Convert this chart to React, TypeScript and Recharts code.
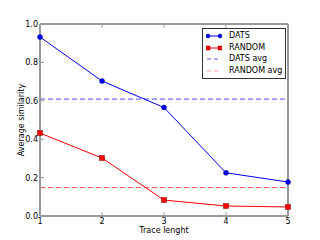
import React from 'react';
import { ComposedChart, Line, XAxis, YAxis, ReferenceLine, Legend } from 'recharts';

const traceLengths = [1, 2, 3, 4, 5];
const datsValues = [0.932, 0.703, 0.565, 0.225, 0.177];
const randomValues = [0.432, 0.302, 0.083, 0.052, 0.047];
const datsAvg = 0.609;
const randomAvg = 0.148;
const yTicks = [0, 0.2, 0.4, 0.6, 0.8, 1.0];

const data = traceLengths.map((x, i) => ({ x, dats: datsValues[i], random: randomValues[i] }));

const FONT = '"DejaVu Sans", sans-serif';
const FRAME = '#999999';

const BottomTick = (p: any) => (
  <g>
    <line x1={p.x} x2={p.x} y1={p.y} y2={p.y - 4} stroke={FRAME} />
    <text x={p.x} y={p.y + 8} textAnchor="middle" fontSize={8} fill="#000" fontFamily={FONT}>{p.payload.value}</text>
  </g>
);
const TopTick = (p: any) => <line x1={p.x} x2={p.x} y1={p.y} y2={p.y + 4} stroke={FRAME} />;
const LeftTick = (p: any) => (
  <g>
    <line x1={p.x} x2={p.x + 4} y1={p.y} y2={p.y} stroke={FRAME} />
    <text x={p.x - 2} y={p.y + 3} textAnchor="end" fontSize={8} fill="#000" fontFamily={FONT}>{Number(p.payload.value).toFixed(1)}</text>
  </g>
);
const RightTick = (p: any) => <line x1={p.x} x2={p.x - 4} y1={p.y} y2={p.y} stroke={FRAME} />;

const SquareDot = (p: any) => (
  <rect key={p.index} x={p.cx - 2.5} y={p.cy - 2.5} width={5} height={5} fill="#ff0000" stroke="#800000" strokeWidth={0.5} />
);

const legendItems = [
  { label: 'DATS', color: '#0000ff', marker: 'circle', dash: '' },
  { label: 'RANDOM', color: '#ff0000', marker: 'square', dash: '' },
  { label: 'DATS avg', color: '#5a5aff', marker: '', dash: '4 3' },
  { label: 'RANDOM avg', color: '#ff9a9a', marker: '', dash: '4 3' },
];

const LegendBox = () => (
  <div style={{ border: '1px solid #333', background: '#fff', padding: '1px 3px', fontFamily: FONT, fontSize: 8, whiteSpace: 'nowrap', lineHeight: '11.7px' }}>
    {legendItems.map((it) => (
      <div key={it.label} style={{ display: 'flex', alignItems: 'center', height: 11.7 }}>
        <svg width={16} height={8} style={{ marginRight: 7, flexShrink: 0 }}>
          <line x1={1} x2={15} y1={4} y2={4} stroke={it.color} strokeDasharray={it.dash} />
          {it.marker === 'circle' && (<><circle cx={2} cy={4} r={2} fill="#0000ff" stroke="#000080" strokeWidth={0.5} /><circle cx={14} cy={4} r={2} fill="#0000ff" stroke="#000080" strokeWidth={0.5} /></>)}
          {it.marker === 'square' && (<><rect x={0} y={2} width={4} height={4} fill="#ff0000" stroke="#800000" strokeWidth={0.5} /><rect x={12} y={2} width={4} height={4} fill="#ff0000" stroke="#800000" strokeWidth={0.5} /></>)}
        </svg>
        <span>{it.label}</span>
      </div>
    ))}
  </div>
);

const XLabel = (p: any) => {
  const vb = p.viewBox;
  return <text x={vb.x + vb.width / 2} y={233} textAnchor="middle" fontSize={8} fontFamily={FONT} fill="#000">Trace lenght</text>;
};
const YLabel = (p: any) => {
  const vb = p.viewBox;
  const cy = vb.y + vb.height / 2;
  return <text x={24} y={cy} transform={`rotate(-90 24 ${cy})`} textAnchor="middle" fontSize={8} fontFamily={FONT} fill="#000">Average similarity</text>;
};

export default function App() {
  return (
    <div style={{ position: 'absolute', left: 0, top: 0, width: 320, height: 240, background: '#fff' }}>
      <ComposedChart width={320} height={240} data={data} margin={{ top: 23, right: 31, bottom: 0, left: 10 }}>
        <XAxis dataKey="x" type="number" domain={[1, 5]} ticks={traceLengths} height={24} tickSize={0} tickMargin={0}
          tick={BottomTick} axisLine={{ stroke: FRAME, strokeWidth: 2 }} tickLine={false} label={<XLabel />} />
        <XAxis xAxisId="top" orientation="top" dataKey="x" type="number" domain={[1, 5]} ticks={traceLengths} height={1}
          tickSize={0} tickMargin={0} tick={TopTick} axisLine={{ stroke: FRAME, strokeWidth: 2 }} tickLine={false} />
        <YAxis type="number" domain={[0, 1]} ticks={yTicks} width={30} tickSize={0} tickMargin={0} tick={LeftTick}
          axisLine={{ stroke: FRAME, strokeWidth: 2 }} tickLine={false} label={<YLabel />} />
        <YAxis yAxisId="r" orientation="right" type="number" domain={[0, 1]} ticks={yTicks} width={1} tickSize={0}
          tickMargin={0} tick={RightTick} axisLine={{ stroke: FRAME, strokeWidth: 2 }} tickLine={false} />
        <ReferenceLine y={datsAvg} stroke="#4d4dff" strokeDasharray="5 3" />
        <ReferenceLine y={randomAvg} stroke="#ff4d4d" strokeDasharray="5 3" />
        <ReferenceLine y={1} stroke={FRAME} strokeWidth={2} />
        <ReferenceLine x={5} stroke={FRAME} strokeWidth={2} />
        <Line dataKey="dats" stroke="#0000ff" strokeWidth={1} isAnimationActive={false}
          dot={{ r: 2.5, fill: '#0000ff', stroke: '#000080', strokeWidth: 0.5 }} />
        <Line dataKey="random" stroke="#ff0000" strokeWidth={1} isAnimationActive={false} dot={SquareDot} />
        <Legend layout="vertical" align="center" verticalAlign="middle" content={<LegendBox />}
          wrapperStyle={{ position: 'absolute', top: 28, left: 202, width: 'auto' }} />
      </ComposedChart>
    </div>
  );
}
